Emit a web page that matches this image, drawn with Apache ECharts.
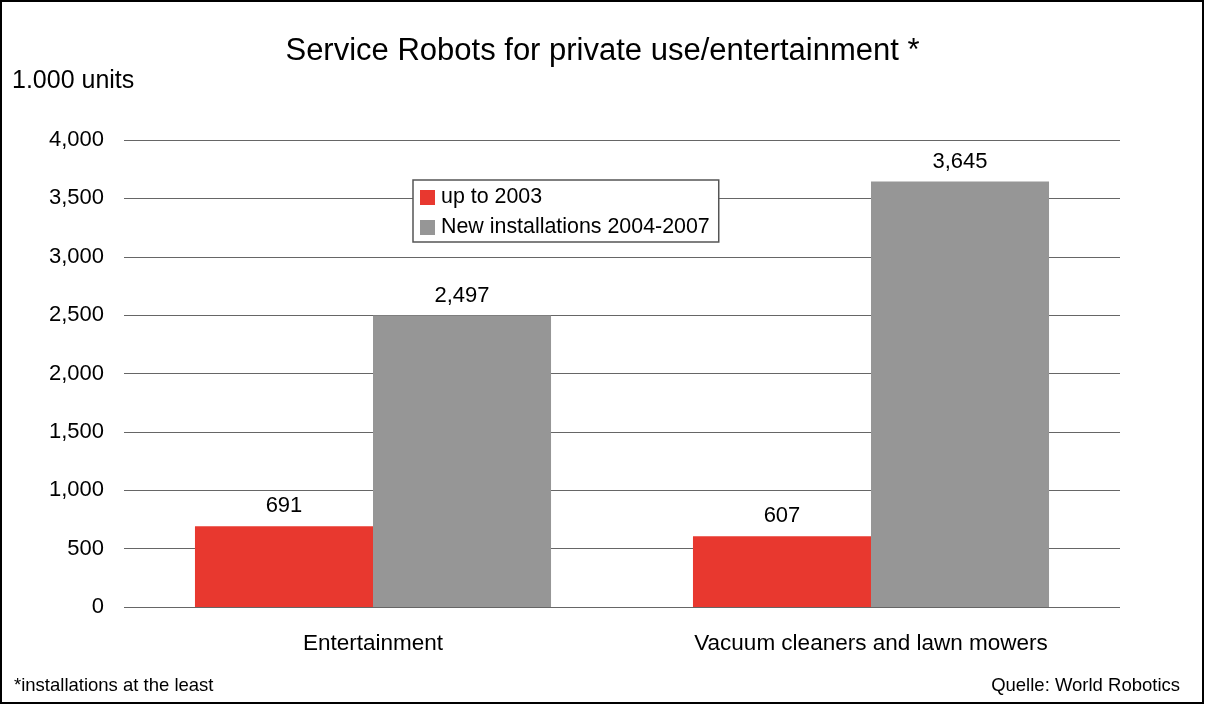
<!DOCTYPE html>
<html>
<head>
<meta charset="utf-8">
<script src="https://cdn.jsdelivr.net/npm/echarts@6/dist/echarts.min.js"></script>
<style>
  html, body { margin: 0; padding: 0; background: #fff; }
  #chart { width: 1205px; height: 705px; }
</style>
</head>
<body>
<div id="chart"></div>
<script>
// Service robots for private use / entertainment, stock in thousand units
const categories = ['Entertainment', 'Vacuum cleaners and lawn mowers'];
const upTo2003 = [691, 607];
const newInstallations = [2497, 3645];
const seriesNames = ['up to 2003', 'New installations 2004-2007'];

const FONT = 'Liberation Sans, Arial, sans-serif';
const chart = echarts.init(document.getElementById('chart'));

const barLabel = {
  show: true,
  position: 'top',
  distance: 9,
  color: '#000',
  fontFamily: FONT,
  fontSize: 22,
  formatter: p => p.value.toLocaleString('en-US')
};

chart.setOption({
  backgroundColor: '#fff',
  animation: false,
  title: {
    text: 'Service Robots for private use/entertainment *',
    left: 'center',
    top: 31,
    textStyle: { fontFamily: FONT, fontSize: 31, fontWeight: 'normal', color: '#000' }
  },
  legend: {
    data: seriesNames,
    orient: 'vertical',
    left: 413,
    top: 180,
    itemWidth: 15,
    itemHeight: 15,
    itemGap: 9,
    padding: [7, 9, 4, 7],
    backgroundColor: '#fff',
    borderColor: '#555',
    borderWidth: 1.5,
    borderRadius: 0,
    icon: 'rect',
    textStyle: { fontFamily: FONT, fontSize: 21.4, lineHeight: 21, color: '#000', padding: [0, 0, 0, 1] }
  },
  grid: { left: 124, right: 85, top: 140, bottom: 98, containLabel: false },
  xAxis: {
    type: 'category',
    data: categories,
    axisLine: { show: false },
    axisTick: { show: false },
    axisLabel: { color: '#000', fontFamily: FONT, fontSize: 22.5, margin: 25 }
  },
  yAxis: {
    type: 'value',
    min: 0,
    max: 4000,
    interval: 500,
    axisLine: { show: false },
    axisTick: { show: false },
    splitLine: { lineStyle: { color: '#666', width: 1.2 } },
    axisLabel: {
      color: '#000', fontFamily: FONT, fontSize: 22, margin: 20,
      formatter: v => v.toLocaleString('en-US')
    }
  },
  series: [
    {
      name: seriesNames[0],
      type: 'bar',
      data: upTo2003,
      barGap: '0%',
      barCategoryGap: '28.5%',
      itemStyle: { color: '#E8382F' },
      label: barLabel
    },
    {
      name: seriesNames[1],
      type: 'bar',
      data: newInstallations,
      itemStyle: { color: '#969696' },
      label: barLabel
    }
  ],
  graphic: [
    {
      type: 'rect',
      shape: { x: 1, y: 1, width: 1202, height: 702 },
      style: { fill: 'none', stroke: '#000', lineWidth: 2 },
      silent: true
    },
    {
      type: 'text',
      left: 12,
      top: 69,
      style: { text: '1.000 units', fontFamily: FONT, fontSize: 25, fill: '#000' }
    },
    {
      type: 'text',
      left: 14,
      top: 676,
      style: { text: '*installations at the least', fontFamily: FONT, fontSize: 18.5, fill: '#000' }
    },
    {
      type: 'text',
      right: 25,
      top: 676,
      style: { text: 'Quelle: World Robotics', fontFamily: FONT, fontSize: 18.5, fill: '#000' }
    }
  ]
});
</script>
</body>
</html>
